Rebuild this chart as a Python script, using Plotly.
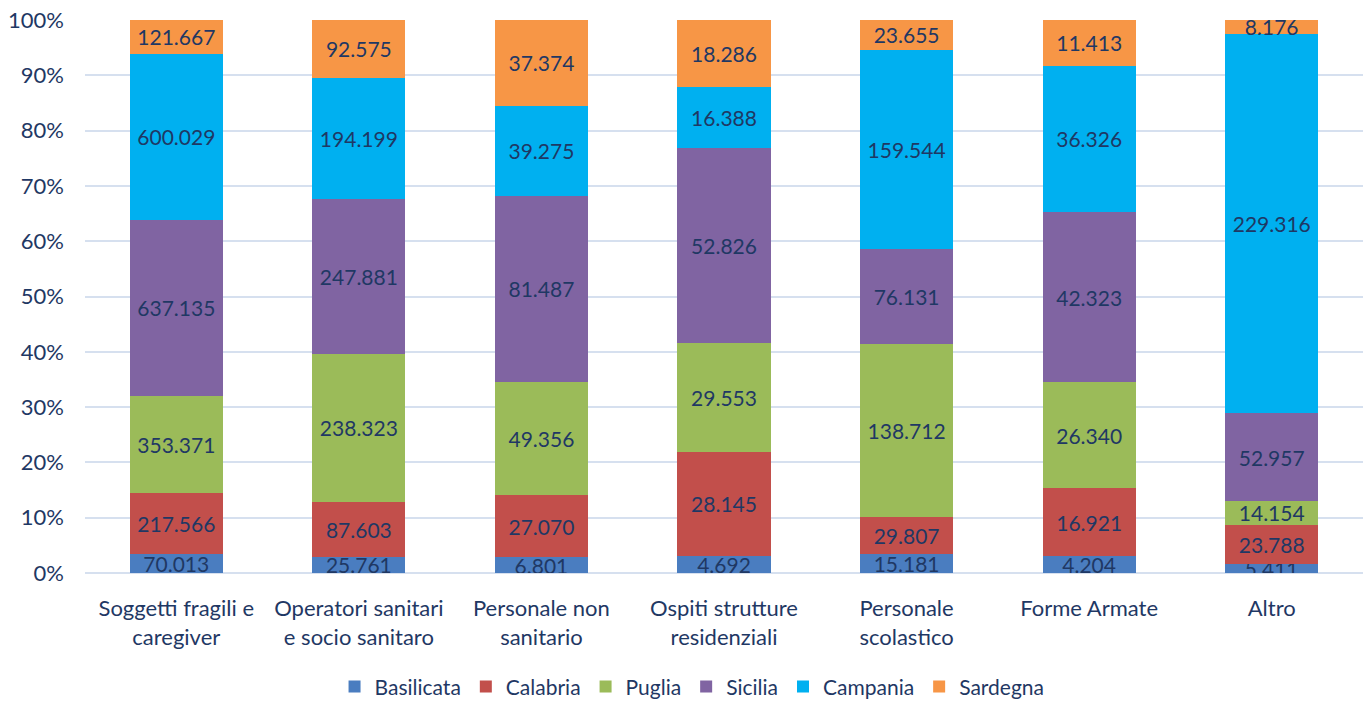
import plotly.graph_objects as go

categories = [
    "Soggetti fragili e<br>caregiver",
    "Operatori sanitari<br>e socio sanitaro",
    "Personale non<br>sanitario",
    "Ospiti strutture<br>residenziali",
    "Personale<br>scolastico",
    "Forme Armate",
    "Altro",
]

basilicata = [70013, 25761, 6801, 4692, 15181, 4204, 5411]
calabria = [217566, 87603, 27070, 28145, 29807, 16921, 23788]
puglia = [353371, 238323, 49356, 29553, 138712, 26340, 14154]
sicilia = [637135, 247881, 81487, 52826, 76131, 42323, 52957]
campania = [600029, 194199, 39275, 16388, 159544, 36326, 229316]
sardegna = [121667, 92575, 37374, 18286, 23655, 11413, 8176]

pct_ticks = list(range(0, 101, 10))
pct_labels = [f"{v}%" for v in pct_ticks]

series = [
    ("Basilicata", basilicata, "#4A7DC0"),
    ("Calabria", calabria, "#C24F4B"),
    ("Puglia", puglia, "#9BBB59"),
    ("Sicilia", sicilia, "#8064A2"),
    ("Campania", campania, "#00B0F0"),
    ("Sardegna", sardegna, "#F79646"),
]

TEXT_COLOR = "#1F3864"
FONT = "Lato, Open Sans, sans-serif"


def it_number(v):
    return f"{v:,}".replace(",", ".")


fig = go.Figure()
for name, vals, color in series:
    fig.add_trace(go.Bar(
        name=name,
        x=categories,
        y=vals,
        marker=dict(color=color, line=dict(width=0)),
        text=[it_number(v) for v in vals],
        textposition="inside",
        insidetextanchor="middle",
        textangle=0,
        constraintext="none",
        textfont=dict(color=TEXT_COLOR, size=21, family=FONT),
        hovertemplate="%{x}<br>" + name + ": %{text}<extra></extra>",
    ))

fig.update_layout(
    barmode="stack",
    barnorm="percent",
    bargap=0.49,
    width=1364,
    height=706,
    autosize=False,
    margin=dict(l=85, r=1, t=20, b=133, autoexpand=False),
    paper_bgcolor="white",
    plot_bgcolor="white",
    font=dict(family=FONT, color=TEXT_COLOR, size=20),
    uniformtext=dict(minsize=21, mode="show"),
    legend=dict(
        orientation="h",
        x=0.475,
        xanchor="center",
        y=-0.206,
        yanchor="middle",
        font=dict(size=21, color=TEXT_COLOR, family=FONT),
        traceorder="normal",
        itemwidth=30,
    ),
    showlegend=True,
)

fig.update_yaxes(
    range=[0, 100],
    tickmode="array",
    tickvals=pct_ticks,
    ticktext=pct_labels,
    showgrid=True,
    gridcolor="#D6E0EF",
    gridwidth=2,
    zeroline=True,
    zerolinecolor="#D6E0EF",
    zerolinewidth=2,
    tickfont=dict(size=22, color=TEXT_COLOR, family=FONT),
    ticks="",
    ticklabelstandoff=20,
    automargin=False,
)
fig.update_xaxes(
    tickfont=dict(size=22, color=TEXT_COLOR, family=FONT),
    showline=False,
    ticks="",
    tickangle=0,
    ticklabelstandoff=20,
    automargin=False,
)

fig.write_html("out.html")
